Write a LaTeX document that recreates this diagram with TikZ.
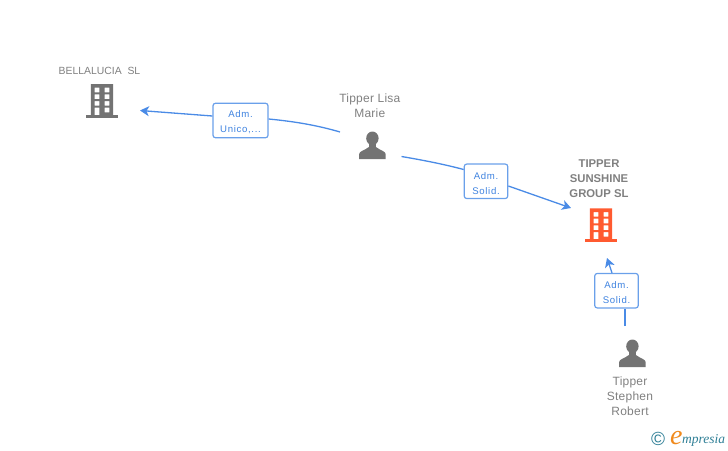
\documentclass[tikz,border=0pt]{standalone}
\usepackage{fontspec}
\setmainfont{Liberation Sans}
\newfontfamily\logofont{Liberation Serif}
\usetikzlibrary{arrows.meta}
\definecolor{gtxt}{HTML}{808080}
\definecolor{gicon}{HTML}{737373}
\definecolor{oicon}{HTML}{FF5A30}
\definecolor{linkc}{HTML}{4A8BE6}
\definecolor{boxc}{HTML}{6AA0EA}
\definecolor{txtc}{HTML}{3F83E0}
\definecolor{teal1}{HTML}{2F7F96}
\definecolor{orange1}{HTML}{F08A1D}
\newcommand{\relstrut}{\rule{0pt}{11pt}}
\tikzset{
  nlabel/.style={text=gtxt,font=\fontsize{12}{15}\selectfont\addfontfeature{LetterSpace=2},align=center,inner sep=0pt},
  nlabelb/.style={text=gtxt,font=\fontsize{11.3}{15}\selectfont\bfseries,align=center,inner sep=0pt},
  rel/.style={draw=boxc,line width=1.2pt,rounded corners=2.5pt,fill=white,text=txtc,
    minimum width=43.5pt,minimum height=34.5pt,inner sep=0pt,align=center,
    font=\fontsize{9.6}{15}\selectfont\addfontfeature{LetterSpace=7}},
  link/.style={draw=linkc,line width=1.3pt},
  tip/.style={-{Stealth[length=9pt,width=10pt,inset=2.5pt]}},
  pics/bldg/.style={code={
    \fill[#1,even odd rule] (-11.2,0) rectangle (11.2,31)
      (-7.4,3.7) rectangle (-2.7,8.3) (2.6,3.7) rectangle (7.3,8.3)
      (-7.4,10.3) rectangle (-2.7,15) (2.6,10.3) rectangle (7.3,15)
      (-7.4,17) rectangle (-2.7,21.7) (2.6,17) rectangle (7.3,21.7)
      (-7.4,23.7) rectangle (-2.7,31) (2.6,23.7) rectangle (7.3,28.3);
    \fill[#1] (-15.7,31) rectangle (15.7,33.7);
  }},
  pics/psn/.style={code={
    \fill[gicon] (0,6.6) ellipse (6.2 and 6.8);
    \fill[gicon] (-3.8,10) rectangle (3.8,18);
    \fill[gicon] (-13.3,27.3) -- (-13.3,22.5) .. controls (-13.3,19.5) and (-8,18.8) .. (-3.8,15.5)
      -- (3.8,15.5) .. controls (8,18.8) and (13.3,19.5) .. (13.3,22.5) -- (13.3,27.3) -- cycle;
  }}
}
\begin{document}
\begin{tikzpicture}[x=1pt,y=-1pt]
\useasboundingbox (0,0) rectangle (728,450);
% icons
\pic at (102,84) {bldg=gicon};
\pic at (601,208.3) {bldg=oicon};
\pic at (372.4,131.7) {psn};
\pic at (632.4,339.7) {psn};
% named anchors of the icons
\node[inner sep=0pt,minimum width=32pt,minimum height=34pt] (bella) at (102,101) {};
\node[inner sep=0pt,minimum width=32pt,minimum height=34pt] (tipper) at (601,225) {};
\node[inner sep=0pt,minimum width=27pt,minimum height=28pt] (lisa) at (372.4,145.5) {};
\node[inner sep=0pt,minimum width=27pt,minimum height=28pt] (stephen) at (632.4,353.5) {};
% texts
\node[text=gtxt,font=\fontsize{10.4}{13}\selectfont,inner sep=0pt] (bellat) at (99.5,70.5) {BELLALUCIA\ \ SL};
\node[nlabel] (lisat) at (369.8,105.5) {Tipper Lisa\\Marie};
\node[nlabelb] (tippert) at (599,179) {TIPPER\\SUNSHINE\\GROUP SL};
\node[nlabel] (stepht) at (630,396) {Tipper\\Stephen\\Robert};
% relation boxes
\node[rel,minimum width=55pt] (r1) at (240.5,120.5) {\relstrut Adm.\\Unico,...};
\node[rel] (r2) at (486,181.3) {\relstrut Adm.\\Solid.};
\node[rel] (r3) at (616.5,290.7) {\relstrut Adm.\\Solid.};
% free ends
\coordinate (a1) at (340,132);
\coordinate (b1) at (140,110.5);
\coordinate (a2) at (401.5,156.5);
\coordinate (b2) at (571,208);
\coordinate (a3) at (625,326);
\coordinate (b3) at (607,258);
% connectors
\draw[link] (a1) .. controls (318,125.5) and (295,121.5) .. (r1.east |- 0,119);
\draw[link,tip] (r1.west |- 0,116) -- (b1);
\draw[link] (a2) .. controls (425,160.5) and (445,164.5) .. (r2.west |- 0,169.5);
\draw[link,tip] (r2.east |- 0,186) -- (b2);
\draw[link] (a3) -- (r3.south -| 625,0);
\draw[link,tip] (r3.north -| 612,0) -- (b3);
% logo
\node[text=teal1,font=\fontsize{19}{19}\selectfont,inner sep=0pt] (copy) at (658,438.5) {©};
\node[text=orange1,font=\logofont\itshape\fontsize{28}{28}\selectfont,inner sep=0pt,anchor=base west] (loge) at (670,444) {e};
\node[text=teal1,font=\logofont\itshape\fontsize{13.5}{14}\selectfont,inner sep=0pt,anchor=base west] (logt) at (682,443) {mpresia};
\end{tikzpicture}
\end{document}
